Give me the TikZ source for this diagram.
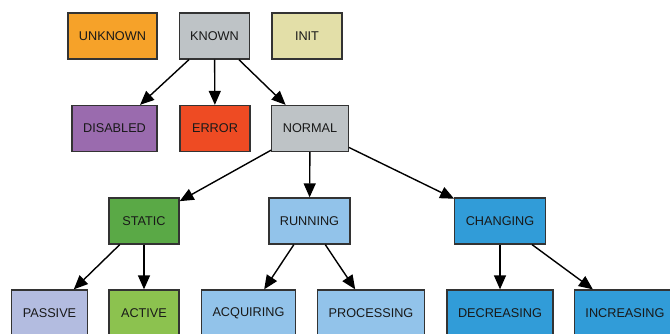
\documentclass[tikz,border=0pt]{standalone}
\usepackage{fontspec}
\setmainfont{Liberation Sans}
\usetikzlibrary{arrows.meta}

\definecolor{unknowncol}{HTML}{F6A229}
\definecolor{knowncol}{HTML}{BEC3C6}
\definecolor{initcol}{HTML}{E3DFA8}
\definecolor{disabledcol}{HTML}{9A6BAE}
\definecolor{errorcol}{HTML}{EE4B23}
\definecolor{staticcol}{HTML}{5AA946}
\definecolor{passivecol}{HTML}{B3BCE0}
\definecolor{activecol}{HTML}{8CC24F}
\definecolor{runningcol}{HTML}{92C3EA}
\definecolor{changingcol}{HTML}{319CD8}
\definecolor{edgecol}{HTML}{333333}

\begin{document}
\begin{tikzpicture}[x=1pt, y=-1pt,
    state/.style={draw=edgecol, line width=1.3pt, minimum width=70pt, minimum height=46pt,
      inner xsep=11pt, text=black!90, font=\fontsize{12.7}{15}\selectfont},
    link/.style={line width=1.4pt, -{Triangle[length=14pt, width=12pt]}}]
      \useasboundingbox (0,0) rectangle (670,333);
      \clip (0,0) rectangle (670,333);

      % top row
      \node [state, fill=unknowncol] (unknown) at (112.5,36) {UNKNOWN};
      \node [state, fill=knowncol] (known) at (214.5,36) {KNOWN};
      \node [state, fill=initcol] (init) at (307,36) {INIT};

      \node [state, fill=disabledcol] (disabled) at (114.5,128.5) {DISABLED};
      \node [state, fill=errorcol] (error) at (215,128.5) {ERROR};
      \node [state, fill=knowncol] (normal) at (310,128.5) {NORMAL};

      \node [state, fill=staticcol] (static) at (144,221) {STATIC};
      \node [state, fill=runningcol] (running) at (309.5,221) {RUNNING};
      \node [state, fill=changingcol] (changing) at (500,221) {CHANGING};

      % bottom row, cut off by the page
      \node [state, fill=passivecol] (passive) at (49.5,313) {PASSIVE};
      \node [state, fill=activecol] (active) at (144,313) {ACTIVE};
      \node [state, fill=runningcol] (acquiring) at (248.5,313) {ACQUIRING};
      \node [state, fill=runningcol] (processing) at (371,313) {PROCESSING};
      \node [state, fill=changingcol] (decreasing) at (500,313) {DECREASING};
      \node [state, fill=changingcol] (increasing) at (625,313) {INCREASING};

      \draw[link] (known) -- (disabled);
      \draw[link] (known) -- (error);
      \draw[link] (known) -- (normal);
      \draw[link] (normal) -- (static);
      \draw[link] (normal) -- (running);
      \draw[link] (normal) -- (changing);
      \draw[link] (static) -- (passive);
      \draw[link] (static) -- (active);
      \draw[link] (running) -- (acquiring);
      \draw[link] (running) -- (processing);
      \draw[link] (changing) -- (decreasing);
      \draw[link] (changing) -- (increasing);

    \end{tikzpicture}
\end{document}
